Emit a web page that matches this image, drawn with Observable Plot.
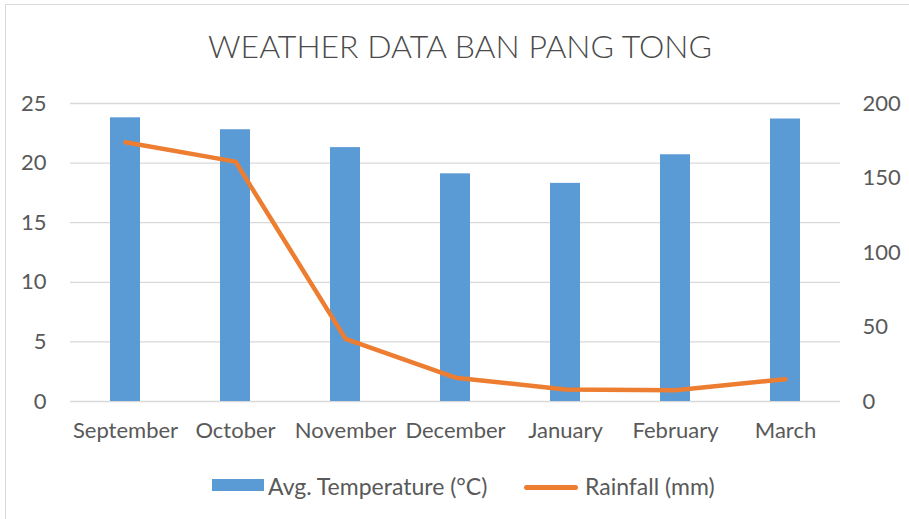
<!DOCTYPE html>
<html>
<head>
<meta charset="utf-8">
<script src="https://cdn.jsdelivr.net/npm/d3@7"></script>
<script src="https://cdn.jsdelivr.net/npm/@observablehq/plot@0.6"></script>
<style>
  html, body { margin: 0; padding: 0; background: #fff; }
  #wrap { position: relative; width: 909px; height: 519px; overflow: hidden; background: #fff; font-family: Lato, "Open Sans", sans-serif; color: #595959; }
  #frame { position: absolute; left: 5px; top: 4px; width: 1000px; height: 1000px; border-left: 1px solid #d9d9d9; border-top: 1px solid #d9d9d9; }
  #title { position: absolute; left: 0; width: 920px; top: 26px; text-align: center; font-size: 32px; font-weight: 300; line-height: 40px; color: #4a4a4a; }
  #chart { position: absolute; left: 0; top: 0; }
  .leg { position: absolute; top: 471px; font-size: 23px; line-height: 30px; color: #595959; white-space: nowrap; }
  .sw { position: absolute; }
</style>
</head>
<body>
<div id="wrap">
  <div id="frame"></div>
  <div id="chart"></div>
  <div id="title">WEATHER DATA BAN PANG TONG</div>
  <div class="sw" style="left:212px;top:479px;width:52px;height:12px;background:#5b9bd5"></div>
  <div class="leg" style="left:268px">Avg. Temperature (°C)</div>
  <div class="sw" style="left:524px;top:485px;width:54px;height:5px;border-radius:3px;background:#ed7d31"></div>
  <div class="leg" style="left:585px">Rainfall (mm)</div>
</div>
<script>
const months = ["September", "October", "November", "December", "January", "February", "March"];
const avgTemperature = [23.8, 22.8, 21.3, 19.1, 18.3, 20.7, 23.7];
const rainfall = [174, 161, 42, 16, 8, 7.5, 15];
const leftTicks = [0, 5, 10, 15, 20, 25];
const rightTicks = [0, 50, 100, 150, 200];

const tempMax = 25, rainMax = 200;
const k = tempMax / rainMax;

const data = months.map((m, i) => ({month: m, temp: avgTemperature[i], rain: rainfall[i]}));

const chart = Plot.plot({
  width: 909,
  height: 460,
  marginTop: 103,
  marginBottom: 59,
  marginLeft: 70,
  marginRight: 69,
  style: {fontFamily: "Lato, 'Open Sans', sans-serif", fontSize: "22px", color: "#595959", background: "transparent", overflow: "visible"},
  x: {domain: months, paddingInner: 0.727, paddingOuter: 0.3635, label: null},
  y: {domain: [0, tempMax], label: null},
  marks: [
    Plot.gridY(leftTicks, {stroke: "#d9d9d9", strokeOpacity: 1, strokeWidth: 1.3}),
    Plot.barY(data, {x: "month", y: "temp", fill: "#5b9bd5"}),
    Plot.line(data, {x: "month", y: d => d.rain * k, stroke: "#ed7d31", strokeWidth: 4.5, strokeLinejoin: "round", strokeLinecap: "round"}),
    Plot.axisY(leftTicks, {anchor: "left", tickSize: 0, tickPadding: 24, label: null, fill: "#595959"}),
    Plot.axisY(rightTicks.map(t => t * k), {anchor: "right", tickSize: 0, tickPadding: 22, tickFormat: d => Math.round(d / k), label: null, fill: "#595959"}),
    Plot.axisX(months, {tickSize: 0, tickPadding: 21, label: null, fill: "#595959"})
  ]
});
document.getElementById("chart").appendChild(chart);
</script>
</body>
</html>
